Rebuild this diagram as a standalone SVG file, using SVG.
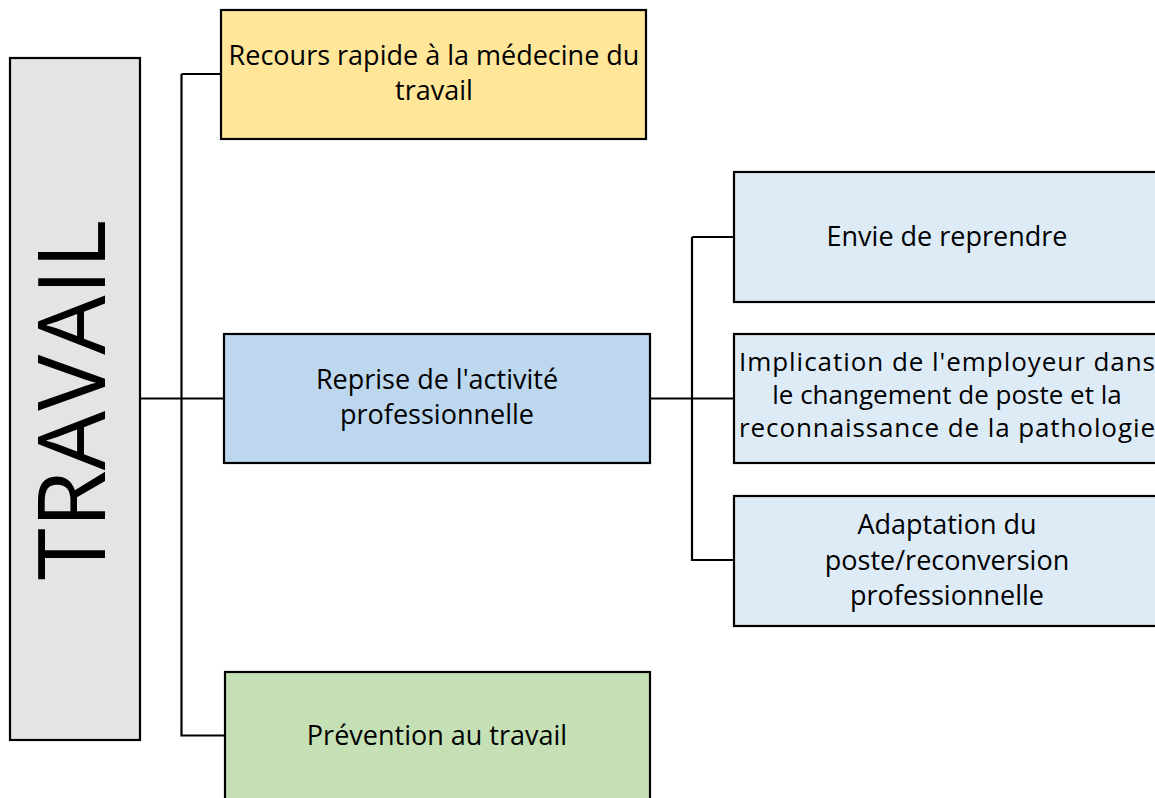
<svg xmlns="http://www.w3.org/2000/svg" width="1155" height="798" viewBox="0 0 1155 798">
<style>
.box{stroke:#000;stroke-width:2.2}
.t{font-family:"Open Sans","Liberation Sans",sans-serif;font-size:27px;fill:#000;text-anchor:middle}
.s{font-size:26px}
.c{fill:none;stroke:#000;stroke-width:2.2}
</style>
<rect width="1155" height="798" fill="#fff"/>
<g id="connectors">
<path class="c" d="M140 398.5H224M181.5 74V735.5H225M181.5 74H221"/>
<path class="c" d="M650 398.5H734M692 237V560H734M692 237H734"/>
</g>
<g id="travail">
<rect class="box" x="10" y="58" width="130" height="682" fill="#E4E4E4"/>
<text class="t" transform="translate(105 400) rotate(-90)" style="font-size:94px">TRAVAIL</text>
</g>
<g id="recours">
<rect class="box" x="221" y="10" width="425" height="129" fill="#FFE699"/>
<text class="t" x="434" y="65">Recours rapide à la médecine du</text>
<text class="t" x="434" y="100">travail</text>
</g>
<g id="reprise">
<rect class="box" x="224" y="334" width="426" height="129" fill="#BDD7EE"/>
<text class="t" x="437" y="389">Reprise de l'activité</text>
<text class="t" x="437" y="424">professionnelle</text>
</g>
<g id="prevention">
<rect class="box" x="225" y="672" width="425" height="140" fill="#C5E0B4"/>
<text class="t" x="437" y="745">Prévention au travail</text>
</g>
<g id="envie">
<rect class="box" x="734" y="172" width="430" height="130" fill="#DDEBF7"/>
<text class="t" x="947" y="246">Envie de reprendre</text>
</g>
<g id="implication">
<rect class="box" x="734" y="334" width="430" height="129" fill="#DDEBF7"/>
<text class="t s" x="947" y="371" textLength="416" lengthAdjust="spacing">Implication de l'employeur dans</text>
<text class="t s" x="947" y="404">le changement de poste et la</text>
<text class="t s" x="947" y="437" textLength="416" lengthAdjust="spacing">reconnaissance de la pathologie</text>
</g>
<g id="adaptation">
<rect class="box" x="734" y="496" width="430" height="130" fill="#DDEBF7"/>
<text class="t" x="947" y="534">Adaptation du</text>
<text class="t" x="947" y="570">poste/reconversion</text>
<text class="t" x="947" y="605">professionnelle</text>
</g>
</svg>
